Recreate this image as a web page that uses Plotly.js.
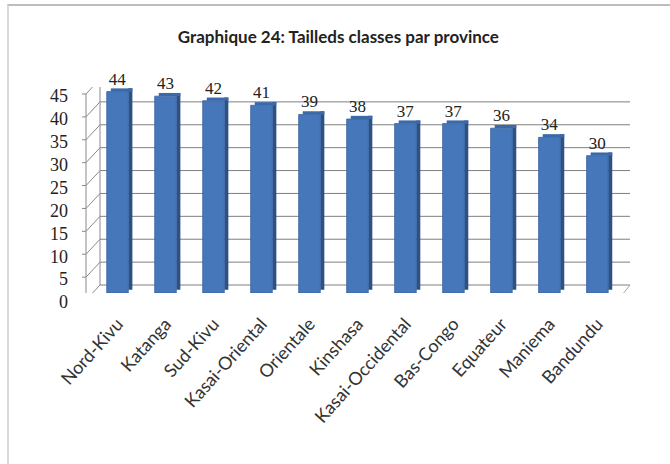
<!DOCTYPE html>
<html>
<head>
<meta charset="utf-8">
<script src="https://cdn.plot.ly/plotly-3.0.1.min.js"></script>
<style>
  html, body { margin: 0; padding: 0; background: #fff; }
  #wrap { position: relative; width: 670px; height: 464px; overflow: hidden; }
  #chart { width: 670px; height: 464px; }
  #frame { position: absolute; left: 7px; top: 4px; width: 670px; height: 470px;
           border-left: 2px solid #d9d9d9; border-top: 2px solid #bdbdbd; pointer-events: none; }
</style>
</head>
<body>
<div id="wrap">
  <div id="chart"></div>
  <div id="frame"></div>
</div>
<script>
const provinces = ["Nord-Kivu", "Katanga", "Sud-Kivu", "Kasai-Oriental", "Orientale", "Kinshasa",
                   "Kasai-Occidental", "Bas-Congo", "Equateur", "Maniema", "Bandundu"];
const tailles = [44, 43, 42, 41, 39, 38, 37, 37, 36, 34, 30];
const yTicks = [0, 5, 10, 15, 20, 25, 30, 35, 40, 45];

const depth = 0.7;      // visual depth of the 3D effect, in value units
const frontW = 0.45;

const frontTrace = {
  type: "bar", x: provinces, y: tailles, width: frontW, offset: -frontW / 2,
  marker: { color: "#4677bb", line: { color: "#3a659f", width: 0.8 } },
  text: tailles.map(String), textposition: "outside", cliponaxis: false,
  textfont: { family: "Liberation Serif", size: 17, color: "#222" },
  hoverinfo: "x+y", showlegend: false
};
const sideTrace = {
  type: "bar", x: provinces, y: tailles, base: depth, width: 0.085, offset: frontW / 2,
  marker: { color: "#2b5188", line: { width: 0 } }, hoverinfo: "skip", showlegend: false
};
const topTrace = {
  type: "bar", x: provinces, y: tailles.map(() => depth), base: tailles, width: frontW,
  offset: -frontW / 2 + 0.085,
  marker: { color: "#3c69a8", line: { width: 0 } }, hoverinfo: "skip", showlegend: false
};

// back wall gridlines, left wall, floor and category ticks (decoration anchored on the axes)
const wallUp = 8, frontDown = -7, frontLeft = -14;
const shapes = [];
yTicks.forEach(v => {
  shapes.push({ type: "line", layer: "below", xref: "x domain", yref: "y", ysizemode: "pixel",
    yanchor: v, x0: 0, x1: 1, y0: wallUp, y1: wallUp, line: { color: "#7f7f7f", width: 1 } });
  shapes.push({ type: "line", layer: "below", xref: "x domain", yref: "y", xsizemode: "pixel", ysizemode: "pixel",
    xanchor: 0, yanchor: v, x0: 0, x1: frontLeft, y0: wallUp, y1: frontDown,
    line: { color: "#8a8a8a", width: 1 } });
  shapes.push({ type: "line", layer: "below", xref: "x domain", yref: "y", xsizemode: "pixel", ysizemode: "pixel",
    xanchor: 0, yanchor: v, x0: frontLeft, x1: frontLeft - 4, y0: frontDown, y1: frontDown,
    line: { color: "#8a8a8a", width: 1 } });
});
shapes.push({ type: "line", layer: "below", xref: "x domain", yref: "y", ysizemode: "pixel", yanchor: 0,
  x0: -0.0264, x1: 0.977, y0: frontDown, y1: frontDown, line: { color: "#a6a6a6", width: 1 } });
shapes.push({ type: "line", layer: "below", xref: "x domain", yref: "y", xsizemode: "pixel", ysizemode: "pixel",
  xanchor: 1, yanchor: 0, x0: 0, x1: -12, y0: wallUp, y1: frontDown, line: { color: "#a6a6a6", width: 1 } });
shapes.push({ type: "line", layer: "below", xref: "x domain", yref: "y", ysizemode: "pixel", yanchor: 0,
  x0: 0, x1: 0, y0: wallUp, y1: wallUp + 206, line: { color: "#8a8a8a", width: 1 } });
shapes.push({ type: "line", layer: "below", xref: "x domain", yref: "y", xsizemode: "pixel", ysizemode: "pixel",
  xanchor: 0, yanchor: 0, x0: frontLeft, x1: frontLeft, y0: frontDown, y1: frontDown + 206,
  line: { color: "#8a8a8a", width: 1 } });
for (let i = 0; i <= provinces.length; i++) {
  shapes.push({ type: "line", layer: "below", xref: "x", yref: "y", xsizemode: "pixel", ysizemode: "pixel",
    xanchor: i - 0.5, yanchor: 0, x0: -7, x1: -7, y0: frontDown, y1: frontDown - 8,
    line: { color: "#a6a6a6", width: 1 } });
}

const layout = {
  width: 670, height: 464,
  margin: { l: 100, r: 40, t: 87, b: 171 },
  paper_bgcolor: "#ffffff", plot_bgcolor: "rgba(0,0,0,0)",
  barmode: "overlay",
  title: { text: "<b>Graphique 24: Tailleds classes par province</b>",
           font: { family: "Lato", size: 17, color: "#222" }, x: 0.505, xanchor: "center", y: 0.92, yanchor: "middle" },
  xaxis: { type: "category", range: [-0.365, 10.68], showgrid: false, zeroline: false, showline: false,
           ticks: "", tickangle: -48, ticklabelstandoff: 16,
           tickfont: { family: "Lato", size: 18, color: "#333" } },
  yaxis: { range: [0, 45], tickvals: yTicks, ticktext: yTicks.map(String), showgrid: false,
           zeroline: false, showline: false, ticks: "",
           ticklabelstandoff: 31, ticklabelshift: 9,
           tickfont: { family: "Liberation Serif", size: 18, color: "#222" } },
  shapes: shapes
};

Plotly.newPlot("chart", [sideTrace, topTrace, frontTrace], layout, { displayModeBar: false, staticPlot: true });
</script>
</body>
</html>
